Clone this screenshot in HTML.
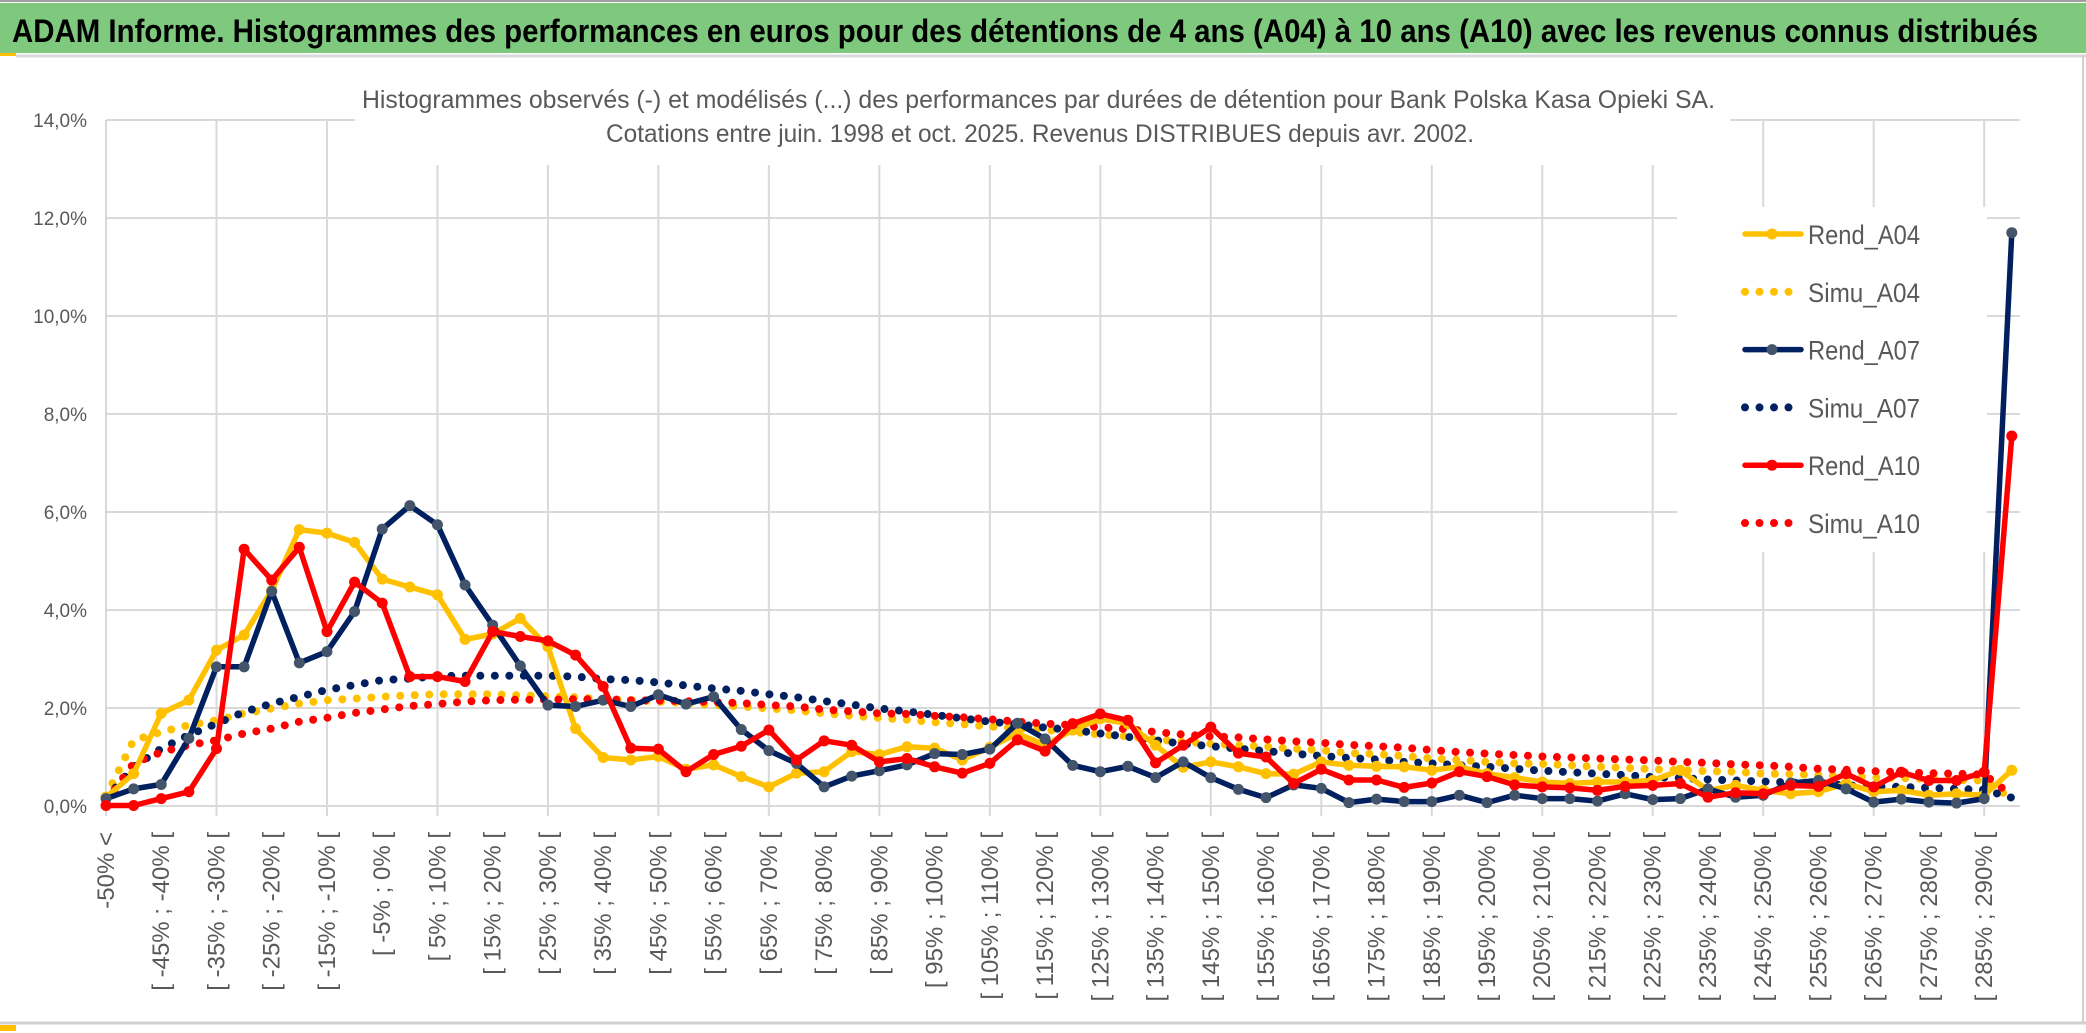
<!DOCTYPE html>
<html><head><meta charset="utf-8"><style>
html,body{margin:0;padding:0;background:#fff;}
svg{display:block;font-family:"Liberation Sans",sans-serif;}
</style></head><body>
<svg id="chart" width="2086" height="1033" viewBox="0 0 2086 1033" xmlns="http://www.w3.org/2000/svg">
<rect x="0" y="0" width="2086" height="1033" fill="#fff"/>
<line x1="0" y1="1" x2="2086" y2="1" stroke="#a0a0a0" stroke-width="2"/>
<rect x="0" y="3" width="2086" height="50" fill="#7FC97F"/>
<text x="12" y="42" font-size="32" font-weight="bold" fill="#000" textLength="2026" lengthAdjust="spacingAndGlyphs">ADAM Informe. Histogrammes des performances en euros pour des détentions de 4 ans (A04) à 10 ans (A10) avec les revenus connus distribués</text>
<rect x="0" y="53" width="16" height="3" fill="#FFC000"/>
<line x1="16" y1="56" x2="2086" y2="56" stroke="#d9d9d9" stroke-width="3"/>
<line x1="2083" y1="56" x2="2083" y2="1022" stroke="#d0d0d0" stroke-width="2"/>
<line x1="0" y1="1023" x2="2086" y2="1023" stroke="#d0d0d0" stroke-width="3"/>
<rect x="0" y="1025" width="16" height="6" fill="#FFC000"/>
<g id="grid"></g>
<rect x="355" y="70" width="1375" height="95" fill="#fff"/>
<text x="362" y="108" font-size="25" fill="#595959" textLength="1353" lengthAdjust="spacingAndGlyphs">Histogrammes observés (-) et modélisés (...) des performances par durées de détention pour Bank Polska Kasa Opieki SA.</text>
<text x="606" y="142" font-size="25" fill="#595959" textLength="868" lengthAdjust="spacingAndGlyphs">Cotations entre juin. 1998 et oct. 2025. Revenus DISTRIBUES depuis avr. 2002.</text>
<g id="yaxis"></g>
<g id="xaxis"></g>
<g id="series"></g>
<g id="legend"></g>
</svg>
<script>
const yTicks = ["0,0%","2,0%","4,0%","6,0%","8,0%","10,0%","12,0%","14,0%"];
const yTickValues = [0,2,4,6,8,10,12,14];
const xLabels = ["-50% <","[ -45% ; -40% [","[ -35% ; -30% [","[ -25% ; -20% [","[ -15% ; -10% [","[ -5% ; 0% [","[ 5% ; 10% [","[ 15% ; 20% [","[ 25% ; 30% [","[ 35% ; 40% [","[ 45% ; 50% [","[ 55% ; 60% [","[ 65% ; 70% [","[ 75% ; 80% [","[ 85% ; 90% [","[ 95% ; 100% [","[ 105% ; 110% [","[ 115% ; 120% [","[ 125% ; 130% [","[ 135% ; 140% [","[ 145% ; 150% [","[ 155% ; 160% [","[ 165% ; 170% [","[ 175% ; 180% [","[ 185% ; 190% [","[ 195% ; 200% [","[ 205% ; 210% [","[ 215% ; 220% [","[ 225% ; 230% [","[ 235% ; 240% [","[ 245% ; 250% [","[ 255% ; 260% [","[ 265% ; 270% [","[ 275% ; 280% [","[ 285% ; 290% ["];
const nCategories = 70;
const rendA04 = [0.18,0.66,1.89,2.16,3.18,3.49,4.4,5.64,5.57,5.38,4.63,4.47,4.31,3.4,3.51,3.83,3.25,1.58,0.99,0.94,1.01,0.75,0.84,0.6,0.39,0.67,0.7,1.11,1.05,1.21,1.18,0.94,1.2,1.48,1.24,1.55,1.78,1.68,1.24,0.79,0.9,0.8,0.66,0.65,0.9,0.83,0.81,0.8,0.73,0.8,0.66,0.58,0.49,0.46,0.49,0.49,0.52,0.73,0.32,0.42,0.32,0.25,0.29,0.46,0.29,0.32,0.22,0.25,0.22,0.73];
const simuA04 = [0.2,1.34,1.51,1.65,1.75,1.89,1.99,2.09,2.16,2.19,2.23,2.26,2.28,2.28,2.28,2.26,2.24,2.22,2.18,2.16,2.13,2.1,2.06,2.03,1.99,1.95,1.89,1.84,1.8,1.76,1.71,1.67,1.62,1.59,1.55,1.51,1.46,1.42,1.36,1.31,1.27,1.24,1.21,1.17,1.14,1.08,1.06,1.02,0.97,0.94,0.9,0.87,0.86,0.83,0.8,0.78,0.75,0.73,0.71,0.7,0.66,0.65,0.63,0.61,0.58,0.57,0.55,0.53,0.52,0.15];
const rendA07 = [0.15,0.35,0.44,1.38,2.84,2.84,4.38,2.92,3.15,3.97,5.65,6.13,5.74,4.51,3.69,2.86,2.06,2.03,2.16,2.03,2.27,2.08,2.23,1.56,1.13,0.87,0.39,0.61,0.72,0.84,1.07,1.05,1.16,1.69,1.37,0.83,0.7,0.81,0.58,0.9,0.58,0.34,0.17,0.43,0.36,0.07,0.14,0.09,0.09,0.22,0.07,0.22,0.15,0.15,0.1,0.25,0.13,0.15,0.35,0.18,0.22,0.47,0.52,0.35,0.08,0.14,0.08,0.06,0.15,11.7];
const simuA07 = [0.15,0.8,1.17,1.45,1.68,1.92,2.09,2.23,2.37,2.47,2.57,2.6,2.65,2.66,2.66,2.66,2.66,2.64,2.59,2.57,2.52,2.46,2.4,2.35,2.28,2.22,2.14,2.07,1.99,1.93,1.86,1.79,1.72,1.67,1.6,1.55,1.48,1.41,1.34,1.27,1.22,1.17,1.12,1.07,1.02,0.98,0.95,0.9,0.87,0.83,0.8,0.76,0.72,0.69,0.66,0.63,0.59,0.57,0.54,0.52,0.5,0.48,0.46,0.42,0.4,0.39,0.37,0.35,0.33,0.17];
const rendA10 = [0.01,0.01,0.15,0.29,1.17,5.24,4.61,5.28,3.56,4.57,4.14,2.64,2.64,2.54,3.56,3.46,3.37,3.08,2.44,1.18,1.16,0.7,1.05,1.22,1.55,0.94,1.33,1.24,0.9,0.97,0.8,0.67,0.87,1.35,1.12,1.68,1.88,1.75,0.88,1.24,1.61,1.08,1.0,0.46,0.75,0.53,0.53,0.38,0.47,0.7,0.6,0.43,0.39,0.37,0.32,0.4,0.42,0.46,0.18,0.27,0.25,0.42,0.4,0.66,0.39,0.69,0.52,0.52,0.69,7.55];
const simuA10 = [0.1,0.87,1.1,1.24,1.34,1.48,1.58,1.72,1.8,1.9,1.97,2.04,2.08,2.13,2.16,2.17,2.17,2.18,2.18,2.16,2.15,2.14,2.12,2.1,2.06,2.03,1.97,1.93,1.89,1.88,1.84,1.81,1.77,1.72,1.68,1.65,1.61,1.57,1.51,1.46,1.42,1.4,1.36,1.32,1.29,1.25,1.22,1.19,1.14,1.1,1.07,1.04,1.01,0.99,0.97,0.95,0.93,0.9,0.88,0.85,0.83,0.8,0.76,0.74,0.71,0.69,0.67,0.66,0.64,0.22];

const NS = "http://www.w3.org/2000/svg";
const X0 = 106, XSTEP = 27.62, Y0 = 806, YPX = 49.0;
function xPos(i){ return X0 + i * XSTEP; }
function yPos(v){ return Y0 - v * YPX; }
function mk(tag, parent){ const e = document.createElementNS(NS, tag); parent.appendChild(e); return e; }

const grid = document.getElementById('grid');
yTickValues.forEach(function(v){
  const l = mk('line', grid);
  
  
  l.setAttribute('x1', X0); l.setAttribute('x2', xPos(69) + 8);
  l.setAttribute('y1', yPos(v)); l.setAttribute('y2', yPos(v));
  l.setAttribute('stroke', '#d9d9d9'); l.setAttribute('stroke-width', '2');
});
for (let i = 0; i < nCategories; i += 4) {
  const l = mk('line', grid);
  
  
  l.setAttribute('x1', xPos(i)); l.setAttribute('x2', xPos(i));
  l.setAttribute('y1', yPos(14)); l.setAttribute('y2', Y0 + 10);
  l.setAttribute('stroke', '#d9d9d9'); l.setAttribute('stroke-width', '2');
}
const yaxis = document.getElementById('yaxis');
yTicks.forEach(function(t, k){
  const e = mk('text', yaxis);
  
  
  e.setAttribute('x', 87); e.setAttribute('y', yPos(yTickValues[k]) + 7);
  e.setAttribute('text-anchor', 'end'); e.setAttribute('font-size', '19');
  e.setAttribute('fill', '#595959');
  e.textContent = t;
});
const xaxis = document.getElementById('xaxis');
xLabels.forEach(function(t, k){
  const x = xPos(k * 2) + 8;
  const e = mk('text', xaxis);
  
  
  e.setAttribute('x', 0); e.setAttribute('y', 0);
  e.setAttribute('transform', 'translate(' + x + ',832) rotate(-90)');
  e.setAttribute('text-anchor', 'end'); e.setAttribute('font-size', '24');
  e.setAttribute('fill', '#595959');
  e.textContent = t;
});

const seriesG = document.getElementById('series');
function pathD(arr){ return arr.map(function(v, i){ return (i ? 'L' : 'M') + xPos(i).toFixed(1) + ' ' + yPos(v).toFixed(1); }).join(' '); }
function dotted(arr, color, name){
  const p = mk('path', seriesG);
  
  
  p.setAttribute('d', pathD(arr)); p.setAttribute('fill', 'none');
  p.setAttribute('stroke', color); p.setAttribute('stroke-width', '8');
  p.setAttribute('stroke-linecap', 'round'); p.setAttribute('stroke-dasharray', '0 14.5');
}
function solid(arr, color, mcolor, name){
  const p = mk('path', seriesG);
  
  
  p.setAttribute('d', pathD(arr)); p.setAttribute('fill', 'none');
  p.setAttribute('stroke', color); p.setAttribute('stroke-width', '5.5');
  p.setAttribute('stroke-linejoin', 'round');
  arr.forEach(function(v, i){
    const c = mk('circle', seriesG);
    
    
    c.setAttribute('cx', xPos(i)); c.setAttribute('cy', yPos(v)); c.setAttribute('r', '5.5');
    c.setAttribute('fill', mcolor);
  });
}
dotted(simuA04, '#FFC000', 'simu-a04-line');
dotted(simuA07, '#002060', 'simu-a07-line');
dotted(simuA10, '#FF0000', 'simu-a10-line');
solid(rendA04, '#FFC000', '#FFC000', 'rend-a04-line');
solid(rendA07, '#002060', '#44546A', 'rend-a07-line');
solid(rendA10, '#FF0000', '#FF0000', 'rend-a10-line');

const lg = document.getElementById('legend');
const bg = mk('rect', lg);


bg.setAttribute('x', 1677); bg.setAttribute('y', 207); bg.setAttribute('width', 310); bg.setAttribute('height', 345); bg.setAttribute('fill', '#fff');
const legendNames = ["Rend_A04","Simu_A04","Rend_A07","Simu_A07","Rend_A10","Simu_A10"];
const legendColors = ["#FFC000","#FFC000","#002060","#002060","#FF0000","#FF0000"];
const legendMarkers = ["#FFC000","","#44546A","","#FF0000",""];
legendNames.forEach(function(n, k){
  const y = 234 + k * 57.8;
  const g = mk('g', lg);
  
  
  const l = mk('line', g);
  l.setAttribute('x1', 1745); l.setAttribute('x2', 1801); l.setAttribute('y1', y); l.setAttribute('y2', y);
  l.setAttribute('stroke', legendColors[k]); l.setAttribute('stroke-linecap', 'round');
  if (legendMarkers[k]) {
    l.setAttribute('stroke-width', '5.5');
    const c = mk('circle', g);
    c.setAttribute('cx', 1772); c.setAttribute('cy', y); c.setAttribute('r', '5.5'); c.setAttribute('fill', legendMarkers[k]);
  } else {
    l.setAttribute('stroke-width', '8'); l.setAttribute('stroke-dasharray', '0 14.5');
  }
  const t = mk('text', g);
  t.setAttribute('x', 1808); t.setAttribute('y', y + 10);
  t.setAttribute('font-size', '27'); t.setAttribute('fill', '#595959');
  t.setAttribute('textLength', '112'); t.setAttribute('lengthAdjust', 'spacingAndGlyphs');
  t.textContent = n;
});
</script>
</body></html>
